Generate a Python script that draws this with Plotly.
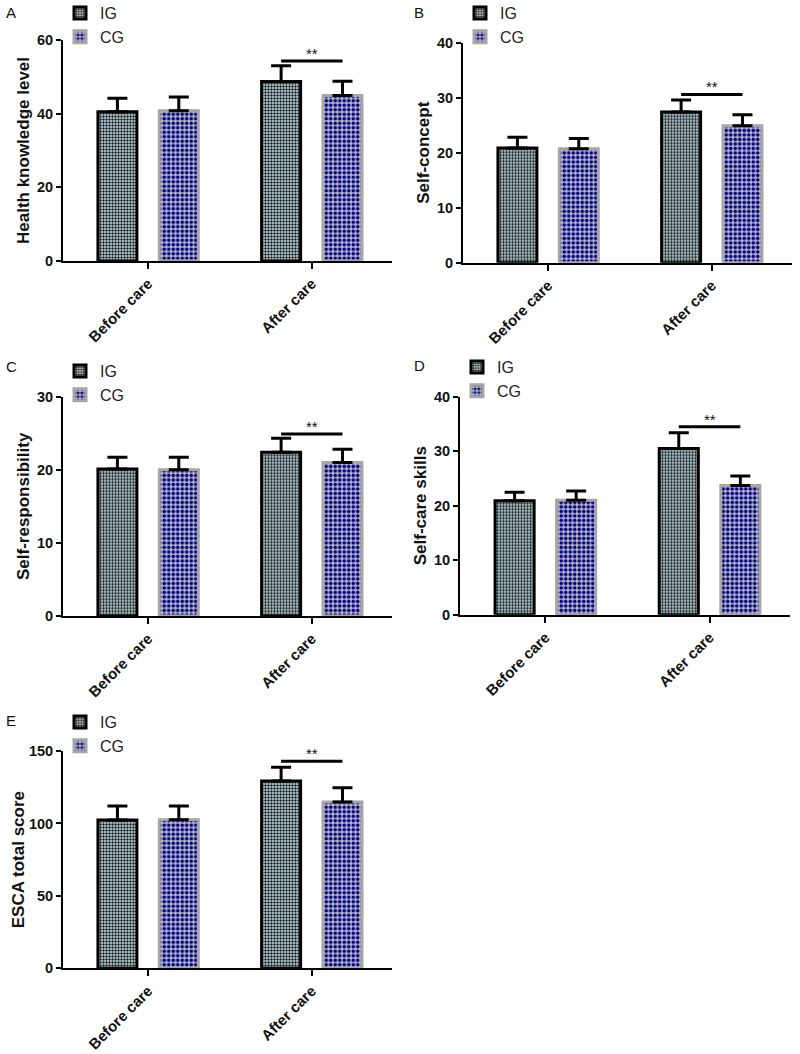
import plotly.graph_objects as go

categories = ["Before care", "After care"]
groups = ["IG", "CG"]
panel_letters = ["A", "B", "C", "D", "E"]
y_titles = ["Health knowledge level", "Self-concept", "Self-responsibility",
            "Self-care skills", "ESCA total score"]

ig_means = [[40.5, 48.7], [20.85, 27.4], [20.1, 22.4], [20.9, 30.5], [102.3, 129.3]]
ig_errs = [[3.7, 4.3], [1.95, 2.2], [1.6, 1.9], [1.55, 2.9], [9.7, 9.4]]
cg_means = [[40.8, 44.9], [20.7, 24.9], [20.0, 21.0], [21.0, 23.7], [102.6, 114.8]]
cg_errs = [[3.7, 3.9], [1.9, 2.0], [1.7, 1.8], [1.7, 1.75], [9.4, 9.8]]
sig_levels = [54.3, 30.6, 24.9, 34.5, 143.0]
sig_labels = ["**", "**", "**", "**", "**"]
y_max = [60, 40, 30, 40, 150]
y_dtick = [20, 10, 10, 10, 50]

W, H = 800, 1054
# plot areas in pixels: (x0, x1, ytop, ybottom)
boxes = [(63, 392, 40, 261), (463, 792, 42.7, 262.7),
         (63, 392, 396.7, 616), (460, 790, 396.7, 614.7),
         (63, 392, 751, 968.3)]
legend_pos = [(60, -4), (460, -4), (60, 354), (457, 350), (60, 705)]
letter_pos = [(4, 13), (412, 13), (4, 367), (412, 366), (4, 720)]
title_standoff = [3, 3, 3, 3, 0]

BARGAP = 0.25
FONT = "Liberation Sans, Arial, sans-serif"

fig = go.Figure()
layout = dict(width=W, height=H,
              margin=dict(l=0, r=0, t=0, b=0, pad=0, autoexpand=False),
              paper_bgcolor="white", plot_bgcolor="white",
              barmode="group", bargap=BARGAP, bargroupgap=0.365,
              font=dict(family=FONT, color="#111"), shapes=[], annotations=[])

for i in range(5):
    sfx = "" if i == 0 else str(i + 1)
    xa, ya = "x" + sfx, "y" + sfx
    leg = "legend" + sfx
    x0, x1, yt, yb = boxes[i]
    fig.add_trace(go.Bar(
        x=categories, y=ig_means[i], name=groups[0], xaxis=xa, yaxis=ya, legend=leg,
        marker=dict(color="#c4e4ee", line=dict(color="black", width=3),
                    pattern=dict(shape=".", fgcolor="#1e1e1e", bgcolor="#c4e4ee",
                                 size=3, solidity=0.5, fillmode="replace")),
        error_y=dict(type="data", array=ig_errs[i], arrayminus=[0, 0], symmetric=False,
                     color="black", thickness=3, width=10)))
    fig.add_trace(go.Bar(
        x=categories, y=cg_means[i], name=groups[1], xaxis=xa, yaxis=ya, legend=leg,
        marker=dict(color="#b8b8b8", line=dict(color="#a6a6a6", width=3),
                    pattern=dict(shape=".", fgcolor="#000090", bgcolor="#b8b8b8",
                                 size=4.5, solidity=0.5, fillmode="replace")),
        error_y=dict(type="data", array=cg_errs[i], arrayminus=[0, 0], symmetric=False,
                     color="black", thickness=3, width=10)))

    layout["xaxis" + sfx] = dict(
        domain=[x0 / W, x1 / W], anchor=ya, range=[-0.52, 1.49], automargin=False,
        showline=True, linecolor="black", linewidth=2,
        ticks="outside", ticklen=6, tickwidth=2, tickcolor="black",
        tickangle=-45, showgrid=False, zeroline=False,
        tickfont=dict(family=FONT, size=15, weight="bold", color="#111"))
    layout["yaxis" + sfx] = dict(
        domain=[1 - yb / H, 1 - yt / H], anchor=xa, range=[0, y_max[i]], automargin=False,
        dtick=y_dtick[i], showline=True, linecolor="black", linewidth=2,
        ticks="outside", ticklen=5, tickwidth=2, tickcolor="black",
        showgrid=False, zeroline=False,
        tickfont=dict(family=FONT, size=14.5, weight="bold", color="#111"),
        title=dict(text=y_titles[i], standoff=title_standoff[i],
                   font=dict(family=FONT, size=17, weight="bold", color="#111")))
    lx, ly = legend_pos[i]
    layout[leg] = dict(x=lx / W, y=1 - ly / H, xanchor="left", yanchor="top",
                       bgcolor="rgba(0,0,0,0)", borderwidth=0,
                       font=dict(family=FONT, size=16, color="#222"),
                       itemwidth=30)

    off = (1 - BARGAP) / 4
    layout["shapes"].append(dict(type="line", xref=xa, yref=ya,
                                 x0=1 - off, x1=1 + off,
                                 y0=sig_levels[i], y1=sig_levels[i],
                                 line=dict(color="black", width=3)))
    layout["annotations"].append(dict(xref=xa, yref=ya, x=1, y=sig_levels[i],
                                      text=sig_labels[i], showarrow=False,
                                      yanchor="bottom", yshift=-3,
                                      font=dict(family=FONT, size=15, color="#111")))
    px, py = letter_pos[i]
    layout["annotations"].append(dict(xref="paper", yref="paper", x=px / W, y=1 - py / H,
                                      xanchor="left", yanchor="middle",
                                      text=panel_letters[i], showarrow=False,
                                      font=dict(family=FONT, size=15, color="#111")))

fig.update_layout(**layout)
post = ("document.documentElement.style.margin='0';"
        "document.body.style.margin='0';document.body.style.overflow='hidden';"
        "var gd=document.getElementById('{plot_id}');"
        "gd.style.position='fixed';gd.style.top='0px';gd.style.left='0px';")
fig.write_html("out.html", config={"displayModeBar": False}, post_script=post)
